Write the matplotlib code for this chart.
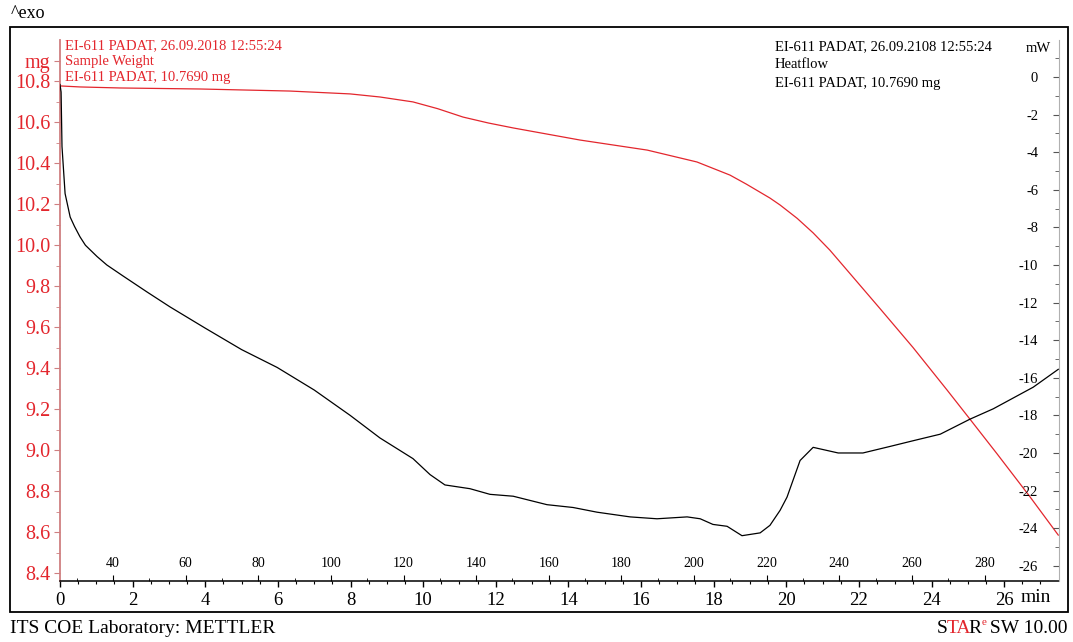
import numpy as np
import matplotlib
matplotlib.use('Agg')
import matplotlib.pyplot as plt
from matplotlib.patches import Rectangle

plt.rcParams['font.family'] = ['Liberation Serif', 'DejaVu Serif']
plt.rcParams['axes.unicode_minus'] = False

# ---------------------------------------------------------------
# data
# ---------------------------------------------------------------
# sample weight (mg) vs time (min)
w_t = [0, 0.55, 1.65, 3.86, 6.33, 7.99, 8.81, 9.72, 10.4, 11.10, 11.8, 12.48,
       14.32, 16.17, 17.54, 18.45, 18.9, 19.55, 19.83, 20.3, 20.74, 21.2, 21.67,
       22.58, 23.49, 24.43, 25.06, 25.81, 26.71, 27.49]
w_mg = [10.776, 10.771, 10.766, 10.761, 10.751, 10.737, 10.722, 10.698, 10.665,
        10.624, 10.595, 10.571, 10.512, 10.463, 10.405, 10.341, 10.297, 10.229,
        10.195, 10.13, 10.059, 9.975, 9.878, 9.690, 9.500, 9.292, 9.150, 8.980,
        8.772, 8.585]

# heatflow (mW) vs time (min)
hf_t = [0, 0.03, 0.055, 0.14, 0.28, 0.4, 0.55, 0.7, 1.02, 1.29, 1.74, 2.40, 3.03,
        3.99, 5.0, 5.98, 7.0, 7.99, 8.81, 9.72, 10.19, 10.60, 11.29, 11.84, 12.48,
        13.41, 14.13, 14.79, 15.70, 16.44, 17.27, 17.63, 17.98, 18.37, 18.78,
        19.28, 19.55, 19.83, 20.02, 20.38, 20.74, 21.43, 22.11, 22.86, 23.49,
        24.24, 25.06, 25.70, 26.80, 27.49]
hf_mw = [-0.4, -0.8, -3.7, -6.2, -7.45, -7.95, -8.5, -8.95, -9.55, -10.0, -10.59,
         -11.44, -12.23, -13.35, -14.5, -15.45, -16.65, -18.0, -19.2, -20.3, -21.15,
         -21.7, -21.9, -22.2, -22.3, -22.75, -22.9, -23.15, -23.4, -23.5, -23.4,
         -23.5, -23.8, -23.9, -24.4, -24.25, -23.85, -23.05, -22.35, -20.4, -19.7,
         -20.0, -20.0, -19.65, -19.35, -19.0, -18.2, -17.65, -16.5, -15.55]

time_ticks = [0, 2, 4, 6, 8, 10, 12, 14, 16, 18, 20, 22, 24, 26]
temp_ticks = [40, 60, 80, 100, 120, 140, 160, 180, 200, 220, 240, 260, 280]
mg_ticks = [8.4, 8.6, 8.8, 9.0, 9.2, 9.4, 9.6, 9.8, 10.0, 10.2, 10.4, 10.6, 10.8, 10.9]
mg_labels = ['8.4', '8.6', '8.8', '9.0', '9.2', '9.4', '9.6', '9.8', '10.0',
             '10.2', '10.4', '10.6', '10.8', 'mg']
mw_ticks = [-26, -24, -22, -20, -18, -16, -14, -12, -10, -8, -6, -4, -2, 0]

T0 = 25.4     # start temperature, heating 10 K/min

RED = '#e3262d'
PINK = '#cf7f80'

W, H = 1073, 642


def px(x, y):
    return x / W, 1 - y / H


fig = plt.figure(figsize=(W / 100, H / 100), dpi=100)
fig.patches.append(Rectangle(px(10, 612), 1058 / W, 585 / H, transform=fig.transFigure,
                             fill=False, edgecolor='black', linewidth=1.3))

ax = fig.add_axes([60 / W, 1 - 581 / H, (1059 - 60) / W, (581 - 40) / H])
ax.set_xlim(0, 27.51)
ax.set_ylim(8.361, 11.0)
ax.plot(w_t, w_mg, color=RED, linewidth=0.9)

ax.spines['top'].set_visible(False)
ax.spines['right'].set_visible(False)
ax.spines['left'].set_color(PINK)
ax.spines['left'].set_linewidth(1.3)
ax.spines['bottom'].set_linewidth(1.1)

ax.set_xticks(time_ticks)
ax.set_xticks(np.arange(0, 27.5, 0.5), minor=True)
ax.tick_params(axis='x', which='major', length=4, width=1, pad=4, labelsize=13.5)
ax.tick_params(axis='x', which='minor', length=2, width=0.8)

ax.set_yticks(mg_ticks, mg_labels)
ax.set_yticks(np.arange(8.5, 10.8, 0.2), minor=True)
ax.tick_params(axis='y', which='both', colors=PINK, labelcolor=RED, labelsize=14.5, pad=3)
ax.tick_params(axis='y', which='major', length=4)
ax.tick_params(axis='y', which='minor', length=3)

# temperature scale drawn on the time axis
sec = ax.secondary_xaxis('bottom', functions=(lambda t: T0 + 10 * t,
                                               lambda T: (T - T0) / 10))
sec.spines['bottom'].set_visible(False)
sec.set_xticks(temp_ticks)
sec.set_xticks(np.arange(30, 290, 20), minor=True)
sec.tick_params(axis='x', which='major', direction='in', length=4, pad=-17, labelsize=10)
sec.tick_params(axis='x', which='minor', direction='in', length=2)

# heatflow axis, spine on the right, ticks/labels inside
ax2 = ax.twinx()
ax2.set_ylim(-26.81, 1.968)
ax2.plot(hf_t, hf_mw, color='black', linewidth=0.9)
for s in ['top', 'bottom', 'right']:
    ax2.spines[s].set_visible(False)
ax2.spines['left'].set_position(('axes', 1.0))
ax2.spines['left'].set_color('#b0b0b0')
ax2.yaxis.tick_left()
ax2.set_yticks(mw_ticks)
ax2.set_yticks(np.arange(-25, 2, 2), minor=True)
ax2.tick_params(axis='y', which='both', colors='#555555', labelcolor='black',
                labelsize=10.5, pad=11)
ax2.tick_params(axis='y', which='major', length=4)
ax2.tick_params(axis='y', which='minor', length=3)

# texts
fig.text(*px(1038, 48), 'mW', fontsize=10.5, ha='center', va='center')
fig.text(*px(1021, 598), 'min', fontsize=14, ha='left', va='center')
fig.text(*px(11, 13), '^exo', fontsize=13, ha='left', va='center')

red_lines = ['EI-611 PADAT, 26.09.2018 12:55:24', 'Sample Weight',
             'EI-611 PADAT, 10.7690 mg']
for i, s in enumerate(red_lines):
    fig.text(*px(65, 46 + 16 * i), s, color=RED, fontsize=10.5, ha='left', va='center')

black_lines = ['EI-611 PADAT, 26.09.2108 12:55:24', 'Heatflow',
               'EI-611 PADAT, 10.7690 mg']
for i, s in enumerate(black_lines):
    fig.text(*px(775, 47 + 18 * i), s, color='black', fontsize=10.5, ha='left', va='center')

fig.text(*px(10, 633), 'ITS COE Laboratory: METTLER', fontsize=14, ha='left', va='baseline')

# STARe SW 10.00: pieces laid out left to right, then shifted to end at x=1068
renderer = fig.canvas.get_renderer()
parts = [('S', 'black', 14, 633, 0), ('TA', RED, 14, 633, -3), ('R', 'black', 14, 633, 0),
         ('e', RED, 8, 625, 0), ('\u2009SW 10.00', 'black', 14, 633, 0)]
pieces = []
xl = 0.0
for s, c, fs, yb, kern in parts:
    t = fig.text(xl / W, 1 - yb / H, s, color=c, fontsize=fs, ha='left', va='baseline')
    bb = t.get_window_extent(renderer)
    pieces.append((t, xl, yb))
    xl += bb.width + kern
shift = 1068 - xl
for t, x, yb in pieces:
    t.set_position(((x + shift) / W, 1 - yb / H))

fig.savefig('out.png', dpi=100)
